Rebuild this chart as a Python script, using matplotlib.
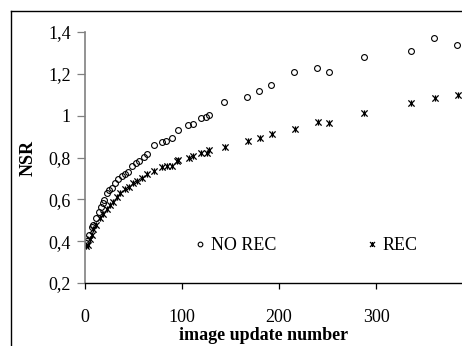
import matplotlib
matplotlib.use("Agg")
import matplotlib.pyplot as plt
from matplotlib.lines import Line2D
from matplotlib.path import Path
from matplotlib.ticker import FuncFormatter

plt.rcParams["font.family"] = ["Liberation Serif", "DejaVu Serif"]

# NO REC series (open circles)
norec_x = [1, 2.5, 5, 7.4, 9.1, 11.5, 14.9, 16.7, 18.7, 20, 22.8, 25.5, 28.6,
           31.4, 34.8, 38.9, 41.7, 45.1, 48.6, 53, 56.4, 61.2, 64, 71.5, 79.4,
           83.8, 89.7, 95.9, 106.8, 111.3, 119.5, 125, 127.8, 143.8, 167,
           179.8, 191.9, 215.2, 239.2, 251.2, 287.2, 335.2, 359.3, 383.2]
norec_y = [0.39, 0.40, 0.43, 0.467, 0.478, 0.51, 0.541, 0.565, 0.584, 0.597,
           0.629, 0.645, 0.656, 0.68, 0.696, 0.712, 0.72, 0.733, 0.76, 0.773,
           0.784, 0.801, 0.817, 0.859, 0.875, 0.878, 0.895, 0.93, 0.957,
           0.962, 0.989, 0.993, 1.002, 1.067, 1.087, 1.12, 1.149, 1.211,
           1.23, 1.211, 1.28, 1.31, 1.372, 1.337]

# REC series (asterisks)
rec_x = [1, 3.9, 5.7, 7.5, 9.1, 11.8, 15.9, 19.3, 22.8, 26.2, 29.6, 33.1,
         36.5, 41.7, 45.8, 50.2, 54.3, 58.8, 64, 71.5, 79.4, 84.6, 90.3,
         94.9, 96.5, 107.8, 111.9, 119.5, 125.7, 128.4, 144.5, 167.9, 180.6,
         192.6, 215.9, 239.9, 251.5, 287.2, 335.9, 359.9, 384]
rec_y = [0.375, 0.382, 0.411, 0.43, 0.457, 0.478, 0.51, 0.53, 0.553, 0.573,
         0.589, 0.61, 0.629, 0.648, 0.661, 0.677, 0.69, 0.701, 0.722, 0.737,
         0.757, 0.758, 0.76, 0.785, 0.789, 0.797, 0.808, 0.82, 0.82, 0.835,
         0.852, 0.881, 0.891, 0.913, 0.938, 0.97, 0.964, 1.012, 1.061,
         1.084, 1.1]

yticks = [0.2, 0.4, 0.6, 0.8, 1.0, 1.2, 1.4]
xticks = [0, 100, 200, 300]

# excel-style star: an x with a vertical bar through it
star = Path([(-1, -1), (1, 1), (-1, 1), (1, -1), (0, -1), (0, 1)],
            [Path.MOVETO, Path.LINETO, Path.MOVETO, Path.LINETO,
             Path.MOVETO, Path.LINETO])

fig = plt.figure(figsize=(4.62, 3.46), dpi=100)
ax = fig.add_axes([0.183, 0.182, 0.817, 0.7255])

ax.plot(norec_x, norec_y, linestyle="none", marker="o", markersize=4.2,
        markerfacecolor="none", markeredgecolor="black", markeredgewidth=0.8,
        label="NO REC")
ax.plot(rec_x, rec_y, linestyle="none", marker=star, markersize=4.5,
        color="black", markeredgewidth=0.9, label="REC")

ax.set_xlim(0, 388)
ax.set_ylim(0.2, 1.4)
ax.set_xticks(xticks)
ax.set_yticks(yticks)
ax.yaxis.set_major_formatter(FuncFormatter(lambda v, p: f"{v:g}".replace(".", ",")))

ax.spines["top"].set_visible(False)
ax.spines["right"].set_visible(False)
ax.spines["left"].set_color("#808080")
ax.spines["left"].set_linewidth(1.2)
ax.spines["bottom"].set_linewidth(1.0)

ax.tick_params(axis="y", direction="out", length=5.5, width=0.9,
               color="#808080", labelsize=13, pad=4.5)
ax.tick_params(axis="x", direction="out", length=4.5, width=0.9,
               labelsize=13, pad=14)

ax.set_xlabel("image update number", fontsize=13, fontweight="bold")
ax.xaxis.set_label_coords(0.473, -0.177)
ax.set_ylabel("NSR", fontsize=13, fontweight="bold", labelpad=8)

ax.legend(loc="center", bbox_to_anchor=(0.587, 0.149), ncol=2, frameon=False,
          fontsize=13, handlelength=0.6, handletextpad=0.3,
          columnspacing=5.0, markerscale=0.8)

# outer frame (only the left and top edges fall inside the image)
fig.add_artist(Line2D([11 / 462, 11 / 462], [0, 1 - 11 / 346],
                      transform=fig.transFigure, color="black", linewidth=1.0))
fig.add_artist(Line2D([11 / 462, 1], [1 - 11 / 346, 1 - 11 / 346],
                      transform=fig.transFigure, color="black", linewidth=1.0))

fig.savefig("out.png", dpi=100)
